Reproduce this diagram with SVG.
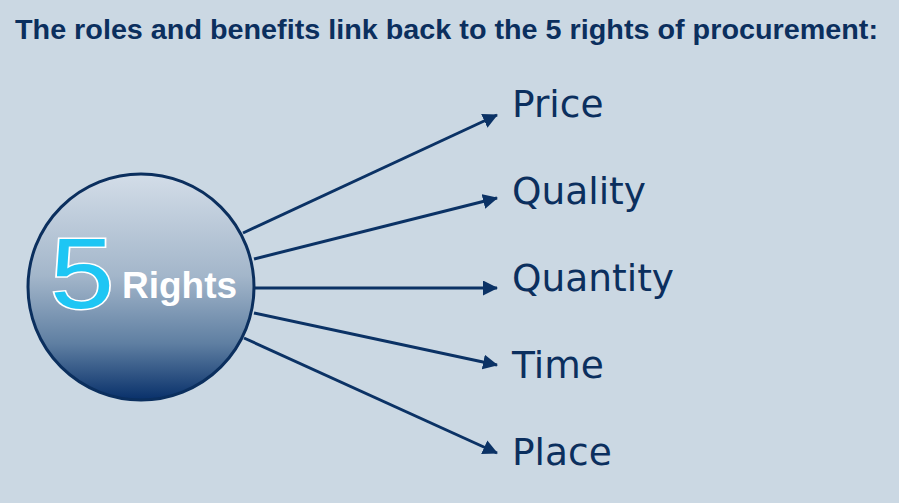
<svg xmlns="http://www.w3.org/2000/svg" width="899" height="503" viewBox="0 0 899 503">
<defs>
<linearGradient id="ball" x1="0" y1="0" x2="0" y2="1">
<stop offset="0" stop-color="#d3dde8"/>
<stop offset="0.45" stop-color="#a3b6ca"/>
<stop offset="0.75" stop-color="#5f7fa2"/>
<stop offset="1" stop-color="#08306a"/>
</linearGradient>
<marker id="ah" viewBox="0 0 15 15" refX="14" refY="7.5" markerWidth="15" markerHeight="15" orient="auto" markerUnits="userSpaceOnUse">
<path d="M0,0 L15,7.5 L0,15 z" fill="#0b3265"/>
</marker>
<style>
.lbl{font-family:"DejaVu Sans",sans-serif;font-size:37.5px;fill:#0b2f5e}
.conn line{stroke:#0b3265;stroke-width:3;marker-end:url(#ah)}
</style>
</defs>
<rect width="899" height="503" fill="#cbd8e3"/>
<text x="15" y="39" font-family="Liberation Sans, sans-serif" font-weight="bold" font-size="28" fill="#0b2f5e" textLength="863" lengthAdjust="spacingAndGlyphs">The roles and benefits link back to the 5 rights of procurement:</text>
<g id="conns" class="conn">
<line x1="243" y1="233" x2="497" y2="115"/>
<line x1="254" y1="259" x2="497" y2="198"/>
<line x1="254" y1="288" x2="497" y2="288"/>
<line x1="254" y1="313" x2="497" y2="365"/>
<line x1="244" y1="338" x2="497" y2="453"/>
</g>
<g id="hub">
<circle cx="141" cy="287" r="113" fill="url(#ball)" stroke="#0b2f5e" stroke-width="3"/>
<text transform="translate(50,308) scale(1.14,1)" x="0" y="0" font-family="Liberation Sans, sans-serif" font-size="101" fill="#1ec6f4" stroke="#ffffff" stroke-width="3" paint-order="stroke">5</text>
<text x="122" y="298" font-family="Liberation Sans, sans-serif" font-weight="bold" font-size="37" fill="#ffffff">Rights</text>
</g>
<g id="price"><text class="lbl" x="512" y="117">Price</text></g>
<g id="quality"><text class="lbl" x="512" y="204">Quality</text></g>
<g id="quantity"><text class="lbl" x="512" y="291">Quantity</text></g>
<g id="time"><text class="lbl" x="512" y="378">Time</text></g>
<g id="place"><text class="lbl" x="512" y="465">Place</text></g>
</svg>
